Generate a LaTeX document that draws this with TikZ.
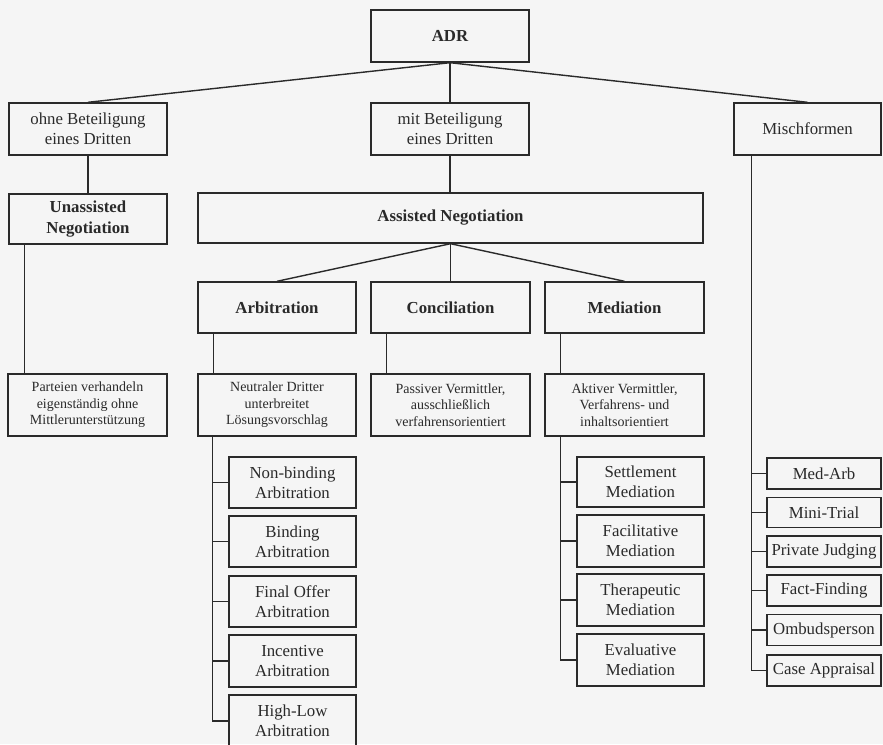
\documentclass[tikz,border=0pt]{standalone}
\usepackage{fontspec}
\setmainfont{Liberation Serif}
\definecolor{ink}{HTML}{2A2A2A}
\definecolor{paper}{HTML}{F5F5F5}
\begin{document}
\begin{tikzpicture}[x=1pt,y=-1pt,
  box/.style={draw=ink, line width=1.4pt, rectangle, inner sep=1pt, align=center, text=ink,
    font=\fontsize{16.8}{20}\selectfont},
  bbox/.style={box, font=\fontsize{16.8}{20.5}\selectfont\bfseries},
  sbox/.style={box, font=\fontsize{14}{16.5}\selectfont},
  conn/.style={draw=ink, line width=1.4pt}]
\fill[paper] (0,0) rectangle (883,744);
\clip (0,0) rectangle (883,744);
% level 0-1
\node[bbox, minimum width=158pt, minimum height=52pt] (adr) at (450,36) {ADR};
\node[box, minimum width=158pt, minimum height=52pt] (ohne) at (88,129) {ohne Beteiligung\\eines Dritten};
\node[box, minimum width=158pt, minimum height=52pt] (mit) at (450,129) {mit Beteiligung\\eines Dritten};
\node[box, minimum width=147pt, minimum height=52pt] (misch) at (807.5,129) {Mischformen};
% level 2
\node[bbox, minimum width=158pt, minimum height=50pt] (unass) at (88,219) {Unassisted\\Negotiation};
\node[bbox, minimum width=505pt, minimum height=50pt] (ass) at (450.5,218) {Assisted Negotiation};
% level 3
\node[bbox, minimum width=158pt, minimum height=51pt] (arb) at (277,307.5) {Arbitration};
\node[bbox, minimum width=159pt, minimum height=51pt] (conc) at (450.5,307.5) {Conciliation};
\node[bbox, minimum width=159pt, minimum height=51pt] (med) at (624.5,307.5) {Mediation};
% level 4
\node[sbox, minimum width=159pt, minimum height=62pt] (parteien) at (87.5,405) {Parteien verhandeln\\eigenständig ohne\\Mittlerunterstützung};
\node[sbox, minimum width=158pt, minimum height=62pt] (neutral) at (277,405) {Neutraler Dritter\\unterbreitet\\Lösungsvorschlag};
\node[sbox, minimum width=159pt, minimum height=62pt] (passiv) at (450.5,405) {Passiver Vermittler,\\ausschließlich\\verfahrensorientiert};
\node[sbox, minimum width=159pt, minimum height=62pt] (aktiv) at (624.5,405) {Aktiver Vermittler,\\Verfahrens- und\\inhaltsorientiert};
% arbitration subs
\node[box, minimum width=127pt, minimum height=51pt] (nb) at (292.5,482.5) {Non-binding\\Arbitration};
\node[box, minimum width=127pt, minimum height=51pt] (bind) at (292.5,541.5) {Binding\\Arbitration};
\node[box, minimum width=127pt, minimum height=51pt] (final) at (292.5,601.5) {Final Offer\\Arbitration};
\node[box, minimum width=127pt, minimum height=52pt] (inc) at (292.5,661) {Incentive\\Arbitration};
\node[box, minimum width=127pt, minimum height=52pt] (hl) at (292.5,721) {High-Low\\Arbitration};
% mediation subs
\node[box, minimum width=127pt, minimum height=50pt] (settle) at (640.5,482) {Settlement\\Mediation};
\node[box, minimum width=127pt, minimum height=52pt] (facil) at (640.5,541) {Facilitative\\Mediation};
\node[box, minimum width=127pt, minimum height=52pt] (thera) at (640.5,600) {Therapeutic\\Mediation};
\node[box, minimum width=127pt, minimum height=52pt] (eval) at (640.5,660) {Evaluative\\Mediation};
% mischformen subs
\node[box, minimum width=114pt, minimum height=31pt] (medarb) at (824,473.5) {Med-Arb};
\node[box, minimum width=114pt, minimum height=30pt] (mini) at (824,512.5) {Mini-Trial};
\node[box, minimum width=114pt, minimum height=31pt] (priv) at (824,551.5) {Private Judging};
\node[box, minimum width=114pt, minimum height=31pt] (fact) at (824,590.5) {Fact-Finding};
\node[box, minimum width=114pt, minimum height=31pt] (omb) at (824,630) {Ombudsperson};
\node[box, minimum width=114pt, minimum height=31pt] (case) at (824,670.5) {Case Appraisal};
% connectors
\draw[conn] (adr.south) -- (ohne.north);
\draw[conn] (adr.south) -- (mit.north);
\draw[conn] (adr.south) -- (misch.north);
\draw[conn] (ohne.south) -- (unass.north);
\draw[conn] (mit.south) -- (mit.south |- ass.north);
\draw[conn] (ass.south) -- (arb.north);
\draw[conn] (ass.south) -- (ass.south |- conc.north);
\draw[conn] (ass.south) -- (med.north);
\draw[conn] ([xshift=16pt]unass.south west) -- ([xshift=17pt]parteien.north west);
\draw[conn] ([xshift=16pt]arb.south west) -- ([xshift=16pt]neutral.north west);
\draw[conn] ([xshift=16pt]conc.south west) -- ([xshift=16pt]passiv.north west);
\draw[conn] ([xshift=16pt]med.south west) -- ([xshift=16pt]aktiv.north west);
% spines
\coordinate (arbspine) at ([xshift=15pt]neutral.south west);
\draw[conn] (arbspine) |- (hl.west);
\foreach \n in {nb,bind,final,inc} \draw[conn] (\n.west) -- (\n.west -| arbspine);
\coordinate (medspine) at ([xshift=16pt]aktiv.south west);
\draw[conn] (medspine) |- (eval.west);
\foreach \n in {settle,facil,thera} \draw[conn] (\n.west) -- (\n.west -| medspine);
\coordinate (mspine) at ([xshift=18pt]misch.south west);
\draw[conn] (mspine) |- (case.west);
\foreach \n in {medarb,mini,priv,fact,omb} \draw[conn] (\n.west) -- (\n.west -| mspine);
\end{tikzpicture}
\end{document}
